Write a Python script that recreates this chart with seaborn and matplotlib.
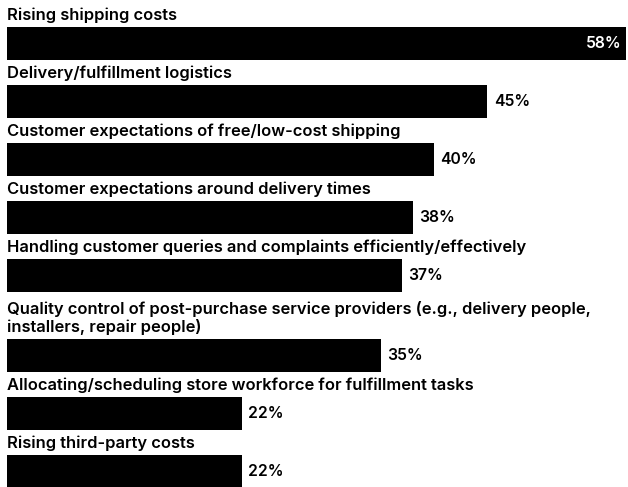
import matplotlib
matplotlib.use("Agg")
import matplotlib.pyplot as plt
import seaborn as sns
import pandas as pd

categories = [
    "Rising shipping costs",
    "Delivery/fulfillment logistics",
    "Customer expectations of free/low-cost shipping",
    "Customer expectations around delivery times",
    "Handling customer queries and complaints efficiently/effectively",
    "Quality control of post-purchase service providers (e.g., delivery people,\ninstallers, repair people)",
    "Allocating/scheduling store workforce for fulfillment tasks",
    "Rising third-party costs",
]
values = [58, 45, 40, 38, 37, 35, 22, 22]

sns.set_theme(style="white")
plt.rcParams['font.family'] = ['Inter', 'DejaVu Sans']

W, H = 628, 487
fig = plt.figure(figsize=(W / 100, H / 100), dpi=100)
ax = fig.add_axes([0, 0, 1, 1])

# layout in pixel-like units
first_center = 43
step = 58
extra_line = 22
bar_h = 33
positions = []
y = first_center
for i, c in enumerate(categories):
    if i > 0:
        y += step + extra_line * c.count("\n")
    positions.append(y)

df = pd.DataFrame({"cat": categories, "value": values, "pos": positions})

sns.barplot(data=df, x="value", y="pos", orient="y", native_scale=True,
            color="black", width=bar_h / step, saturation=1, ax=ax,
            edgecolor="black", linewidth=0)

px_per_unit = 619 / 58.0
ax.set_xlim(-7 / px_per_unit, 621 / px_per_unit)
ax.set_ylim(H, 0)
ax.axis("off")

vmax = max(values)
fs = 11.9
for c, v, p in zip(categories, values, positions):
    ax.text(0, p - bar_h / 2 - 3.5, c, ha="left", va="bottom", fontsize=fs,
            fontweight="semibold", color="black", linespacing=1.12)
    if v == vmax:
        ax.text(v - 0.45, p + 1, f"{v}%", ha="right", va="center", fontsize=11.3,
                fontweight="semibold", color="white")
    else:
        ax.text(v + 0.6, p + 1, f"{v}%", ha="left", va="center", fontsize=11.3,
                fontweight="semibold", color="black")

fig.savefig("out.png", dpi=100)
